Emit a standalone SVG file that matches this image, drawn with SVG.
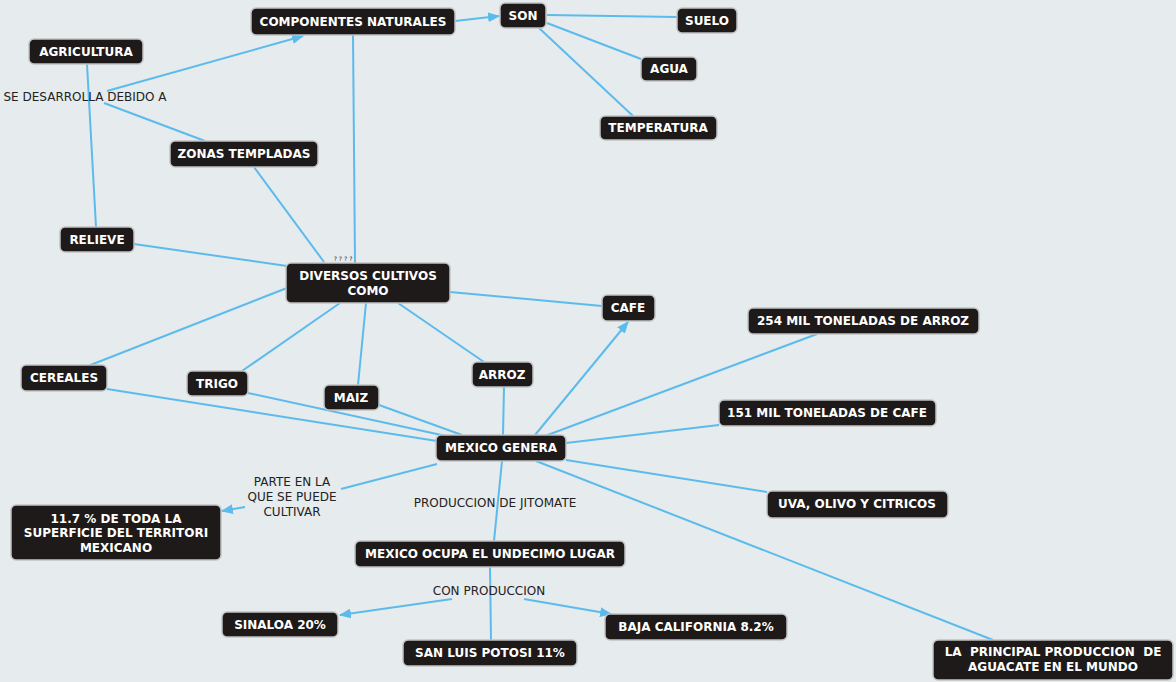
<svg xmlns="http://www.w3.org/2000/svg" width="1176" height="682" viewBox="0 0 1176 682">
<defs>
<style>
.n rect{fill:#1d1a19;stroke:#c2c2c2;stroke-width:1.5}
.n text{fill:#fff;font-family:"DejaVu Sans",Verdana,sans-serif;font-weight:bold;font-size:12px;text-anchor:middle}
.lbl{fill:#222;font-family:"DejaVu Sans",Verdana,sans-serif;font-size:12px;text-anchor:middle}
.c path{fill:none;stroke:#5bbbec;stroke-width:2}
</style>
<marker id="arr" viewBox="0 0 12 10" refX="11" refY="5" markerWidth="12" markerHeight="10" markerUnits="userSpaceOnUse" orient="auto">
<path d="M0,0 L12,5 L0,10 z" fill="#5bbbec"/>
</marker>
</defs>
<rect width="1176" height="682" fill="#e6ebed"/>
<g id="connectors" class="c">
<path d="M87,64 L96,227"/>
<path d="M107,91 L303,36" marker-end="url(#arr)"/>
<path d="M104,103 L205,141"/>
<path d="M254,167 L324,262"/>
<path d="M353,35 L355,263"/>
<path d="M455,21 L499,16" marker-end="url(#arr)"/>
<path d="M547,15 L677,17"/>
<path d="M547,23 L641,59"/>
<path d="M539,28 L633,116"/>
<path d="M134,244 L287,266"/>
<path d="M287,288 L88,366"/>
<path d="M340,303 L242,371"/>
<path d="M366,303 L358,385"/>
<path d="M398,303 L484,362"/>
<path d="M450,292 L602,306"/>
<path d="M107,389 L437,441"/>
<path d="M248,393 L446,436"/>
<path d="M379,405 L462,435"/>
<path d="M504,387 L503,435"/>
<path d="M535,435 L628,322" marker-end="url(#arr)"/>
<path d="M545,436 L817,334"/>
<path d="M566,443 L719,425"/>
<path d="M566,460 L767,492"/>
<path d="M536,461 L993,640"/>
<path d="M437,464 L341,489"/>
<path d="M245,507 L222,511" marker-end="url(#arr)"/>
<path d="M502,461 L494,541"/>
<path d="M490,567 L491,640"/>
<path d="M452,599 L340,615" marker-end="url(#arr)"/>
<path d="M524,599 L611,614" marker-end="url(#arr)"/>
</g>
<text class="lbl" x="85" y="101">SE DESARROLLA DEBIDO A</text>
<text class="lbl" x="292" y="486">PARTE EN LA</text>
<text class="lbl" x="292" y="501">QUE SE PUEDE</text>
<text class="lbl" x="292" y="516">CULTIVAR</text>
<text class="lbl" x="495" y="507">PRODUCCION DE JITOMATE</text>
<text class="lbl" x="489" y="595">CON PRODUCCION</text>
<text class="lbl" x="344" y="261" style="font-size:6px;letter-spacing:2px">????</text>
<g id="componentes" class="n"><rect x="251" y="8" width="204" height="27" rx="5"/><text x="353" y="26">COMPONENTES NATURALES</text></g>
<g id="son" class="n"><rect x="500" y="3" width="46" height="25" rx="5"/><text x="523" y="20">SON</text></g>
<g id="suelo" class="n"><rect x="677" y="8" width="60" height="25" rx="5"/><text x="707" y="25">SUELO</text></g>
<g id="agua" class="n"><rect x="641" y="57" width="56" height="24" rx="5"/><text x="669" y="73">AGUA</text></g>
<g id="temperatura" class="n"><rect x="600" y="116" width="117" height="24" rx="5"/><text x="658" y="132">TEMPERATURA</text></g>
<g id="agricultura" class="n"><rect x="29" y="39" width="114" height="25" rx="5"/><text x="86" y="56">AGRICULTURA</text></g>
<g id="zonas" class="n"><rect x="170" y="141" width="148" height="26" rx="5"/><text x="244" y="158">ZONAS TEMPLADAS</text></g>
<g id="relieve" class="n"><rect x="60" y="227" width="74" height="25" rx="5"/><text x="97" y="244">RELIEVE</text></g>
<g id="diversos" class="n"><rect x="286" y="263" width="164" height="40" rx="5"/><text x="368" y="280">DIVERSOS CULTIVOS</text><text x="368" y="295">COMO</text></g>
<g id="cafe" class="n"><rect x="602" y="295" width="53" height="26" rx="5"/><text x="628" y="312">CAFE</text></g>
<g id="arroz254" class="n"><rect x="748" y="308" width="231" height="26" rx="5"/><text x="863" y="325">254 MIL TONELADAS DE ARROZ</text></g>
<g id="cereales" class="n"><rect x="21" y="365" width="86" height="26" rx="5"/><text x="64" y="382">CEREALES</text></g>
<g id="trigo" class="n"><rect x="187" y="371" width="61" height="25" rx="5"/><text x="217" y="388">TRIGO</text></g>
<g id="maiz" class="n"><rect x="324" y="385" width="55" height="25" rx="5"/><text x="351" y="402">MAIZ</text></g>
<g id="arroz" class="n"><rect x="472" y="362" width="61" height="25" rx="5"/><text x="502" y="379">ARROZ</text></g>
<g id="cafe151" class="n"><rect x="719" y="400" width="217" height="26" rx="5"/><text x="827" y="417">151 MIL TONELADAS DE CAFE</text></g>
<g id="mexicogenera" class="n"><rect x="436" y="435" width="130" height="26" rx="5"/><text x="501" y="452">MEXICO GENERA</text></g>
<g id="uva" class="n"><rect x="767" y="491" width="181" height="27" rx="5"/><text x="857" y="508">UVA, OLIVO Y CITRICOS</text></g>
<g id="superficie" class="n"><rect x="11" y="505" width="210" height="55" rx="5"/><text x="116" y="523">11.7 % DE TODA LA</text><text x="116" y="537">SUPERFICIE DEL TERRITORI</text><text x="116" y="552">MEXICANO</text></g>
<g id="undecimo" class="n"><rect x="355" y="541" width="270" height="26" rx="5"/><text x="490" y="558">MEXICO OCUPA EL UNDECIMO LUGAR</text></g>
<g id="sinaloa" class="n"><rect x="222" y="612" width="116" height="25" rx="5"/><text x="280" y="629">SINALOA 20%</text></g>
<g id="sanluis" class="n"><rect x="403" y="640" width="174" height="26" rx="5"/><text x="490" y="657">SAN LUIS POTOSI 11%</text></g>
<g id="baja" class="n"><rect x="605" y="614" width="182" height="26" rx="5"/><text x="696" y="631">BAJA CALIFORNIA 8.2%</text></g>
<g id="aguacate" class="n"><rect x="933" y="640" width="240" height="40" rx="5"/><text x="1053" y="656" xml:space="preserve">LA  PRINCIPAL PRODUCCION  DE</text><text x="1053" y="671">AGUACATE EN EL MUNDO</text></g>
</svg>
